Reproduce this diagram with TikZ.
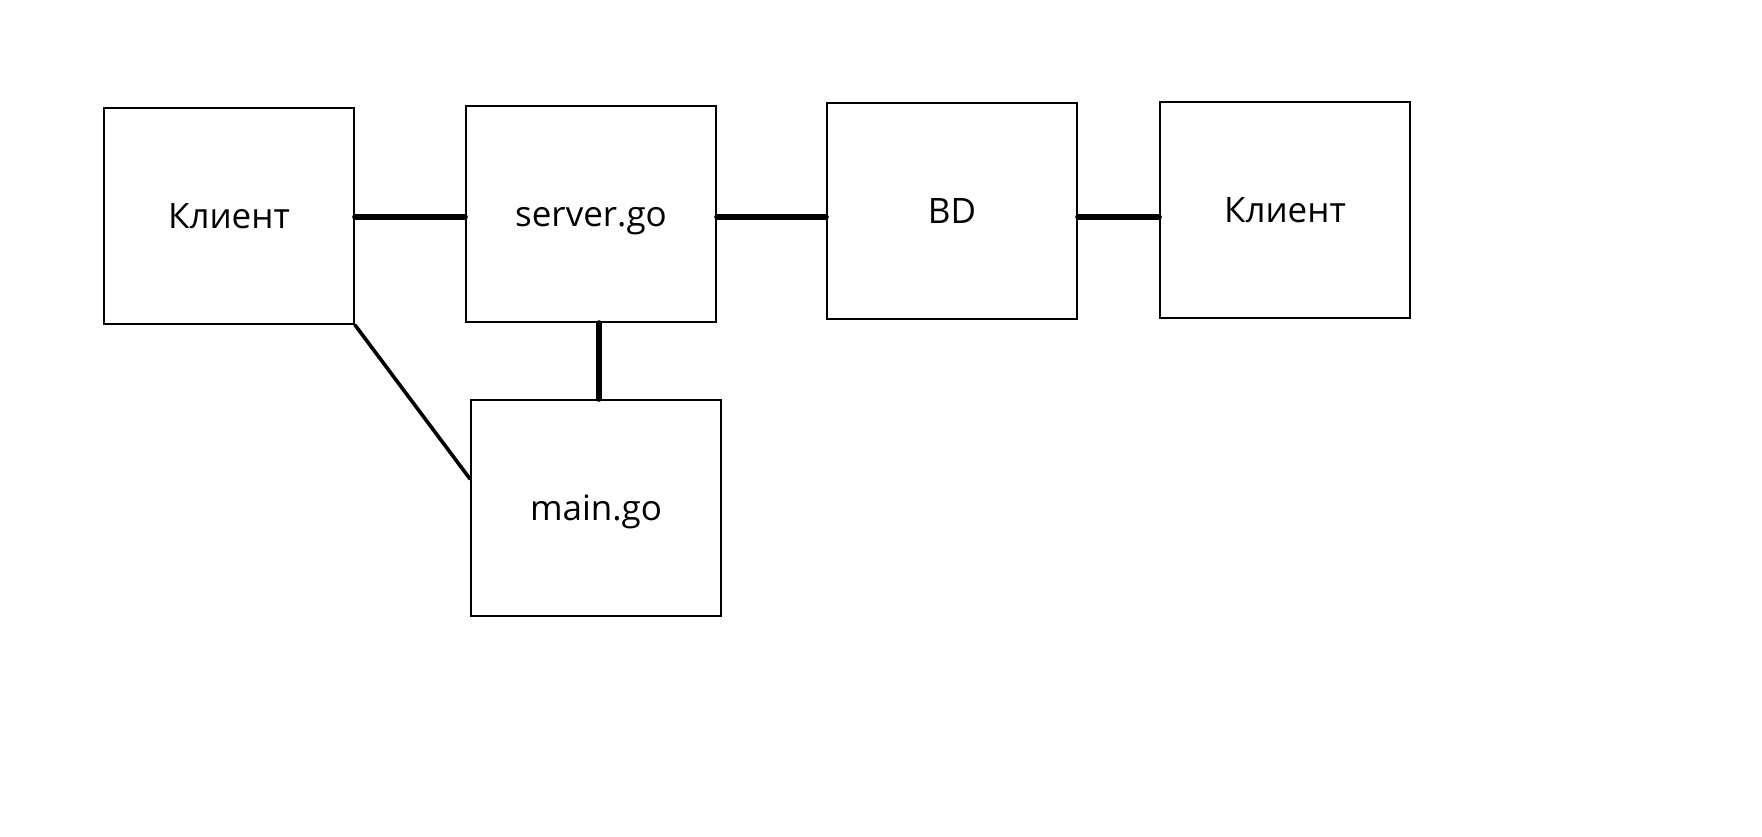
\documentclass[tikz,border=0pt]{standalone}
\usepackage{fontspec}
\setmainfont{Open Sans}
\usetikzlibrary{positioning}

\begin{document}
\begin{tikzpicture}[x=0.5pt,y=-0.5pt,
    block/.style={draw,line width=1pt,minimum width=125pt,minimum height=108pt,
      inner sep=0pt,text height=12pt,text depth=0pt,font=\fontsize{17.5}{20}\selectfont},
    link/.style={line width=2.8pt,line cap=round}]
  \useasboundingbox (0,0) rectangle (1762,836);
  \node[block] (client1) at (229,216) {Клиент};
  \node[block] (server) at (591,214) {server.go};
  \node[block] (bd) at (952,211) {BD};
  \node[block] (client2) at (1285,210) {Клиент};
  \node[block] (main) at (596,508) {main.go};
  \path[link]
    ([yshift=-0.5pt]client1.east) edge ([yshift=-0.5pt]client1.east -| server.west)
    ([yshift=-1.5pt]server.east) edge ([yshift=-1.5pt]server.east -| bd.west)
    ([yshift=-1.5pt]bd.east |- server.east) edge ([yshift=-1.5pt]server.east -| client2.west)
    (main.north -| 599,0) edge (server.south -| 599,0);
  \draw[line width=1.8pt,line cap=round] (client1.south east) -- (main.167);
\end{tikzpicture}
\end{document}
